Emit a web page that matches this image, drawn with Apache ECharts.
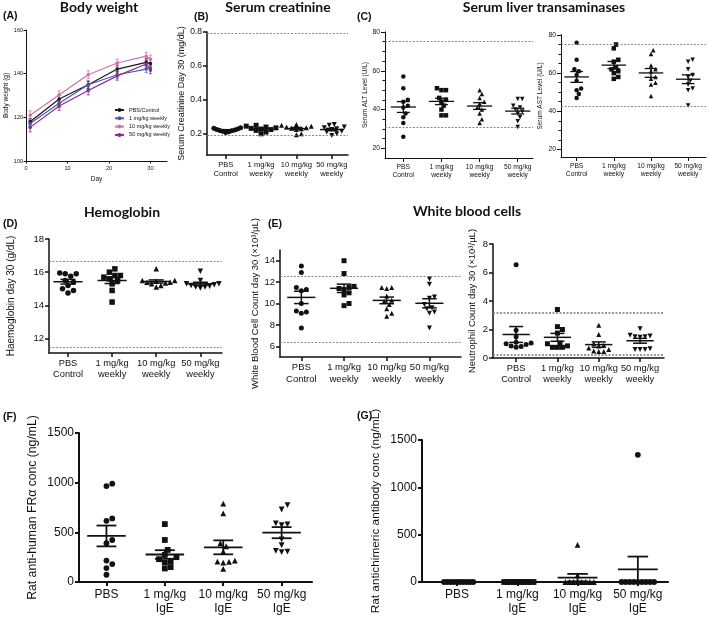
<!DOCTYPE html>
<html>
<head>
<meta charset="utf-8">
<script src="https://cdn.jsdelivr.net/npm/echarts@6/dist/echarts.min.js"></script>
<style>
html, body { margin: 0; background: #fff; }
#chart { width: 709px; height: 620px; }
</style>
</head>
<body>
<div id="chart"></div>
<script>
// ---- data ----
var weeklyLabels = ['PBS\nControl', '1 mg/kg\nweekly', '10 mg/kg\nweekly', '50 mg/kg\nweekly'];
var igeLabels = ['PBS', '1 mg/kg\nIgE', '10 mg/kg\nIgE', '50 mg/kg\nIgE'];

// (A) body weight, mean +/- sem
var bwDays = [1, 8, 15, 22, 29, 30];
var bwNames = ['PBS/Control', '1 mg/kg weekly', '10 mg/kg weekly', '50 mg/kg weekly'];
var bwPBS = [118, 128.4, 134.9, 142.1, 145.2, 144.6];
var bw1 = [117.2, 126.4, 134.9, 139.5, 142.1, 142.6];
var bw10 = [121, 130.3, 139.5, 144.9, 148, 146.7];
var bw50 = [115.4, 125.2, 132.3, 139, 144.4, 141.8];
var bwPBSsem = [1.5, 1.8, 1.6, 1.8, 1.7, 1.7];
var bw1sem = [1.6, 1.8, 1.8, 1.6, 1.5, 1.5];
var bw10sem = [2, 1.8, 1.8, 1.8, 1.8, 1.8];
var bw50sem = [2.1, 2, 2, 2, 1.8, 1.8];
var bwTicksX = [0, 10, 20, 30];
var bwTicksY = [100, 120, 140, 160];

// (B) serum creatinine
var creatPBS = [0.235, 0.232, 0.228, 0.225, 0.222, 0.22, 0.218, 0.215, 0.212, 0.208];
var creat1 = [0.25, 0.245, 0.24, 0.235, 0.232, 0.228, 0.225, 0.22, 0.21, 0.2];
var creat10 = [0.255, 0.25, 0.245, 0.24, 0.235, 0.232, 0.23, 0.225, 0.2, 0.195];
var creat50 = [0.255, 0.25, 0.24, 0.235, 0.23, 0.225, 0.215, 0.21, 0.2, 0.19];
var creatRef = [0.79, 0.19];
var creatTicks = [0.2, 0.4, 0.6, 0.8];

// (C) ALT / AST
var altPBS = [57, 51, 45, 44, 42, 41, 38, 36, 33, 26];
var alt1 = [51, 50, 50, 46, 45, 44, 42, 40, 37, 37];
var alt10 = [50, 48, 46, 44, 43, 41, 40, 38, 35, 33];
var alt50 = [45.5, 45.5, 42, 41, 40, 39, 38, 36, 34, 31];
var altRef = [75.2, 30.7];
var astPBS = [76, 67, 62, 61, 59, 56, 52, 51, 49, 47];
var ast1 = [75, 73, 67, 66, 63, 62, 61, 60, 58, 57];
var ast10 = [72, 70, 64, 62, 61, 58, 57, 55, 54, 48];
var ast50 = [67, 66, 62, 59, 58, 56, 54, 52, 51, 43];
var astRef = [75.3, 42.6];
var transTicks = [20, 40, 60, 80];
var transMinorTicks = [20, 25, 30, 35, 40, 45, 50, 55, 60, 65, 70, 75, 80];

// (D) haemoglobin
var hgbPBS = [15.95, 15.9, 15.9, 15.75, 15.5, 15.4, 15.2, 15.0, 14.9, 14.75];
var hgb1 = [16.2, 16.0, 15.8, 15.8, 15.7, 15.6, 15.5, 15.3, 14.9, 14.2];
var hgb10 = [16.2, 15.5, 15.5, 15.45, 15.4, 15.4, 15.35, 15.3, 15.2, 15.1];
var hgb50 = [16.05, 15.5, 15.3, 15.3, 15.25, 15.2, 15.15, 15.1, 15.1, 15.05];
var hgbRef = [16.64, 11.49];
var hgbTicks = [12, 14, 16, 18];

// (E) white blood cells / neutrophils
var wbcPBS = [13.5, 12.9, 11.5, 11.3, 11.2, 10.0, 9.3, 9.2, 9.1, 7.7];
var wbc1 = [14.0, 12.8, 11.6, 11.5, 11.4, 11.3, 11.0, 10.8, 10.0, 9.8];
var wbc10 = [11.5, 11.4, 11.5, 10.7, 10.3, 10.2, 9.9, 9.5, 9.1, 8.8];
var wbc50 = [12.3, 11.8, 10.6, 10.5, 9.9, 9.6, 9.5, 9.2, 9.1, 7.7];
var wbcRef = [12.56, 6.37];
var wbcTicks = [6, 8, 10, 12, 14];
var neuPBS = [6.55, 1.95, 1.5, 1.1, 1.05, 1.0, 0.95, 0.85, 0.8, 0.75];
var neu1 = [3.4, 2.2, 2.0, 1.75, 1.05, 1.0, 0.85, 0.75, 0.75, 0.75];
var neu10 = [2.3, 1.65, 1.0, 0.9, 0.85, 0.7, 0.6, 0.5, 0.45, 0.45];
var neu50 = [2.05, 1.6, 1.55, 1.5, 1.5, 1.45, 0.65, 0.6, 0.6, 0.6];
var neuRef = [3.15, 0.2];
var neuTicks = [0, 2, 4, 6, 8];

// (F) anti-human FRa, (G) antichimeric antibody
var fraPBS = [990, 966, 640, 616, 423, 390, 216, 180, 140, 73];
var fra1 = [583, 423, 323, 273, 250, 230, 206, 196, 150, 136];
var fra10 = [790, 690, 390, 360, 305, 216, 206, 203, 196, 133];
var fra50 = [773, 730, 590, 580, 573, 430, 370, 313, 306, 300];
var acaPBS = [0, 0, 0, 0, 0, 0, 0, 0, 0, 0];
var aca1 = [0, 0, 0, 0, 0, 0, 0, 0, 0, 0];
var aca10 = [393, 70, 0, 0, 0, 0, 0, 0, 0, 0];
var aca50 = [1343, 0, 0, 0, 0, 0, 0, 0, 0, 0];
var concTicks = [0, 500, 1000, 1500];

// ---- helpers ----
var FONT = 'Liberation Sans';
var INK = '#111';
var catTicks = [0, 1, 2, 3];

function mean(a) { return a.reduce(function (s, v) { return s + v; }, 0) / a.length; }
function sem(a) {
    var m = mean(a);
    var ss = a.reduce(function (s, v) { return s + (v - m) * (v - m); }, 0);
    return Math.sqrt(ss / (a.length - 1)) / Math.sqrt(a.length);
}

// simple beeswarm: horizontal pixel offsets so dots do not overlap
function swarm(vals, pxY, d, maxHalf) {
    var order = vals.map(function (v, i) { return i; })
        .sort(function (a, b) { return vals[a] - vals[b]; });
    var placed = [], offs = [];
    order.forEach(function (i) {
        var y = vals[i] * pxY, x = 0;
        for (var k = 0; k < 80; k++) {
            x = (k % 2 ? 1 : -1) * Math.ceil(k / 2) * d * 0.5;
            var ok = placed.every(function (q) {
                var dx = q[0] - x, dy = q[1] - y;
                return dx * dx + dy * dy >= d * d * 0.9;
            });
            if (ok) break;
        }
        placed.push([x, y]);
        offs[i] = x;
    });
    var m = Math.max.apply(null, offs.map(Math.abs));
    if (m > maxHalf) offs = offs.map(function (o) { return o * maxHalf / m; });
    return offs;
}

function meanSemItem(lw) {
    return function (params, api) {
        var g = api.value(0), m = api.value(1), s = api.value(2);
        function seg(xa, ya, xb, yb) {
            var a = api.coord([xa, ya]), b = api.coord([xb, yb]);
            return { type: 'line', shape: { x1: a[0], y1: a[1], x2: b[0], y2: b[1] },
                style: { stroke: INK, lineWidth: lw } };
        }
        return { type: 'group', children: [
            seg(g - 0.33, m, g + 0.33, m),
            seg(g - 0.17, m + s, g + 0.17, m + s),
            seg(g - 0.17, m - s, g + 0.17, m - s),
            seg(g, m - s, g, m + s)
        ] };
    };
}

function errBarItem(color) {
    return function (params, api) {
        var x = api.value(0), y = api.value(1), e = api.value(2);
        var t = api.coord([x, y + e]), b = api.coord([x, y - e]);
        var st = { stroke: color, lineWidth: 0.8 };
        return { type: 'group', children: [
            { type: 'line', shape: { x1: t[0], y1: t[1], x2: b[0], y2: b[1] }, style: st },
            { type: 'line', shape: { x1: t[0] - 1.6, y1: t[1], x2: t[0] + 1.6, y2: t[1] }, style: st },
            { type: 'line', shape: { x1: b[0] - 1.6, y1: b[1], x2: b[0] + 1.6, y2: b[1] }, style: st }
        ] };
    };
}

function plain(v) { return String(v); }
function oneDec(v) { return v.toFixed(1); }

var option = {
    animation: false,
    textStyle: { fontFamily: FONT, color: INK },
    grid: [], xAxis: [], yAxis: [], series: [], graphic: []
};

// ---- (A) body weight ----
option.grid.push({ left: 26, top: 30, width: 141, height: 131 });
option.xAxis.push({
    gridIndex: 0, type: 'value', min: 0, max: 34,
    name: 'Day', nameLocation: 'middle', nameGap: 15,
    nameTextStyle: { fontSize: 6.5, color: INK },
    axisLine: { lineStyle: { color: INK, width: 1 } },
    axisTick: { customValues: bwTicksX, length: 2.5, lineStyle: { color: INK } },
    axisLabel: { customValues: bwTicksX, fontSize: 5.5, color: INK, margin: 4, formatter: plain },
    splitLine: { show: false }
});
option.yAxis.push({
    gridIndex: 0, type: 'value', min: 100, max: 160,
    name: 'Body weight (g)', nameLocation: 'middle', nameGap: 15,
    nameTextStyle: { fontSize: 6.5, color: INK },
    axisLine: { show: true, lineStyle: { color: INK, width: 1 } },
    axisTick: { show: true, customValues: bwTicksY, length: 2.5, lineStyle: { color: INK } },
    axisLabel: { customValues: bwTicksY, fontSize: 5.5, color: INK, margin: 3, formatter: plain },
    splitLine: { show: false }
});
var bwSets = [bwPBS, bw1, bw10, bw50];
var bwSems = [bwPBSsem, bw1sem, bw10sem, bw50sem];
var bwColors = ['#1a1a1a', '#4a57ad', '#d070b4', '#8b2a8e'];
bwSets.forEach(function (vals, k) {
    option.series.push({
        name: bwNames[k], type: 'line', xAxisIndex: 0, yAxisIndex: 0,
        symbol: 'circle', symbolSize: 3.5,
        lineStyle: { color: bwColors[k], width: 1.2 },
        itemStyle: { color: bwColors[k] },
        data: bwDays.map(function (d, i) { return [d, vals[i]]; })
    });
    option.series.push({
        type: 'custom', xAxisIndex: 0, yAxisIndex: 0,
        renderItem: errBarItem(bwColors[k]),
        data: bwDays.map(function (d, i) { return [d, vals[i], bwSems[k][i]]; })
    });
});
option.legend = {
    data: bwNames, orient: 'vertical', left: 114, top: 107,
    itemWidth: 9, itemHeight: 5, itemGap: 2.3, padding: 0,
    textStyle: { fontSize: 5.5, color: INK, fontFamily: FONT }
};

// ---- dot plot panels ----
function addDotPanel(p) {
    var gi = option.grid.length;
    option.grid.push({ left: p.left, top: p.top, width: p.width, height: p.height });
    var xi = option.xAxis.length, yi = option.yAxis.length;
    option.xAxis.push({
        gridIndex: gi, type: 'value', min: p.xr[0], max: p.xr[1],
        axisLine: { onZero: false, lineStyle: { color: INK, width: p.lw } },
        axisTick: { customValues: catTicks, length: 4, lineStyle: { color: INK, width: p.lw } },
        axisLabel: {
            customValues: catTicks, fontSize: p.xfs, lineHeight: p.xfs * 1.2,
            color: INK, margin: 5,
            formatter: function (v) { return p.cats[Math.round(v)]; }
        },
        splitLine: { show: false }
    });
    option.yAxis.push({
        gridIndex: gi, type: 'value', min: p.yr[0], max: p.yr[1], position: 'left',
        name: p.name, nameLocation: 'middle', nameGap: p.nameGap,
        nameTextStyle: { fontSize: p.nfs, color: INK },
        axisLine: { show: true, onZero: false, lineStyle: { color: INK, width: p.lw } },
        axisTick: { show: true, customValues: p.ticks, length: 4, lineStyle: { color: INK, width: p.lw } },
        axisLabel: { customValues: p.ticks, fontSize: p.yfs, color: INK, margin: 5, formatter: p.fmt || plain },
        splitLine: { show: false }
    });
    if (p.minor) {
        // second left axis that only carries the short minor ticks
        option.yAxis.push({
            gridIndex: gi, type: 'value', min: p.yr[0], max: p.yr[1],
            position: 'left', offset: 0,
            axisLine: { show: true, onZero: false, lineStyle: { color: INK, width: p.lw } },
            axisTick: { show: true, customValues: p.minor, length: 2.5, lineStyle: { color: INK, width: 1 } },
            axisLabel: { show: false }, splitLine: { show: false }
        });
    }
    var pxX = p.width / (p.xr[1] - p.xr[0]);
    var pxY = p.height / (p.yr[1] - p.yr[0]);
    var stats = [];
    p.sets.forEach(function (vals, g) {
        var offs = swarm(vals, pxY, p.size, p.spread * pxX);
        var s = {
            type: 'scatter', xAxisIndex: xi, yAxisIndex: yi,
            symbol: p.symbols[g], symbolRotate: p.rot[g], symbolSize: p.size,
            itemStyle: { color: INK, opacity: 1 },
            data: vals.map(function (v, i) { return [g + offs[i] / pxX, v]; })
        };
        if (g === 0 && p.refs) {
            s.markLine = {
                silent: true, symbol: 'none', label: { show: false },
                lineStyle: { color: '#7a7a7a', type: [2, 1.5], width: p.refW || 0.9 },
                data: p.refs.map(function (r) { return { yAxis: r }; })
            };
        }
        option.series.push(s);
        stats.push([g, mean(vals), sem(vals)]);
    });
    option.series.push({
        type: 'custom', xAxisIndex: xi, yAxisIndex: yi, z: 5,
        renderItem: meanSemItem(p.meanLw), data: stats
    });
}

var shapes = ['circle', 'rect', 'triangle', 'triangle'];
var rots = [0, 0, 0, 180];

// (B)
addDotPanel({
    left: 207, top: 32, width: 141, height: 123, xr: [-0.53, 3.46], yr: [0.075, 0.8],
    ticks: creatTicks, fmt: oneDec, cats: weeklyLabels,
    name: 'Serum Creatinine Day 30 (mg/dL)', nameGap: 21, nfs: 9, xfs: 7.6, yfs: 8.5,
    sets: [creatPBS, creat1, creat10, creat50], symbols: shapes, rot: rots,
    size: 5, spread: 0.42, lw: 1.5, meanLw: 1.5, refs: creatRef
});
// (C) ALT
addDotPanel({
    left: 385, top: 32, width: 148, height: 126, xr: [-0.48, 3.4], yr: [15, 80],
    ticks: transTicks, minor: transMinorTicks, cats: weeklyLabels,
    name: 'Serum ALT Level (U/L)', nameGap: 13, nfs: 6.5, xfs: 6.7, yfs: 6.8,
    sets: [altPBS, alt1, alt10, alt50], symbols: shapes, rot: rots,
    size: 4.5, spread: 0.4, lw: 1, meanLw: 1.3, refs: altRef
});
// (C) AST
addDotPanel({
    left: 561, top: 35, width: 145, height: 122, xr: [-0.42, 3.48], yr: [16, 80],
    ticks: transTicks, minor: transMinorTicks, cats: weeklyLabels,
    name: 'Serum AST Level (U/L)', nameGap: 17, nfs: 6.5, xfs: 6.7, yfs: 6.8,
    sets: [astPBS, ast1, ast10, ast50], symbols: shapes, rot: rots,
    size: 4.5, spread: 0.4, lw: 1, meanLw: 1.3, refs: astRef
});
// (D)
addDotPanel({
    left: 49, top: 239, width: 173, height: 114, xr: [-0.43, 3.49], yr: [11.13, 18],
    ticks: hgbTicks, cats: weeklyLabels,
    name: 'Haemoglobin day 30 (g/dL)', nameGap: 33, nfs: 10, xfs: 9.3, yfs: 9.5,
    sets: [hgbPBS, hgb1, hgb10, hgb50], symbols: shapes, rot: rots,
    size: 5.5, spread: 0.42, lw: 1.5, meanLw: 1.5, refs: hgbRef
});
// (E) WBC
addDotPanel({
    left: 280, top: 250, width: 181, height: 107, xr: [-0.5, 3.74], yr: [5, 15],
    ticks: wbcTicks, cats: weeklyLabels,
    name: 'White Blood Cell Count day 30 (×10³/µL)', nameGap: 20, nfs: 9.5, xfs: 9.5, yfs: 9.5,
    sets: [wbcPBS, wbc1, wbc10, wbc50], symbols: shapes, rot: rots,
    size: 5, spread: 0.42, lw: 1.5, meanLw: 1.5, refs: wbcRef
});
// (E) neutrophils
addDotPanel({
    left: 493, top: 244, width: 171, height: 114, xr: [-0.56, 3.58], yr: [0, 8],
    ticks: neuTicks, cats: weeklyLabels,
    name: 'Neutrophil Count day 30 (×10³/µL)', nameGap: 16, nfs: 9.5, xfs: 9.3, yfs: 9.5,
    sets: [neuPBS, neu1, neu10, neu50], symbols: shapes, rot: rots,
    size: 5, spread: 0.42, lw: 1.5, meanLw: 1.5, refs: neuRef, refW: 1.6
});
// (F)
addDotPanel({
    left: 79, top: 433, width: 233, height: 149, xr: [-0.47, 3.52], yr: [0, 1500],
    ticks: concTicks, cats: igeLabels,
    name: 'Rat anti-human FRα conc (ng/mL)', nameGap: 40, nfs: 12.2, xfs: 12, yfs: 12,
    sets: [fraPBS, fra1, fra10, fra50], symbols: shapes, rot: rots,
    size: 5.8, spread: 0.4, lw: 2, meanLw: 1.8
});
// (G)
addDotPanel({
    left: 422, top: 440, width: 246, height: 142, xr: [-0.58, 3.5], yr: [0, 1500],
    ticks: concTicks, cats: igeLabels,
    name: 'Rat antichimeric antibody conc (ng/mL)', nameGap: 40, nfs: 11.8, xfs: 12, yfs: 12,
    sets: [acaPBS, aca1, aca10, aca50], symbols: ['circle', 'rect', 'triangle', 'circle'], rot: [0, 0, 0, 0],
    size: 5.8, spread: 0.27, lw: 2, meanLw: 1.8
});

// ---- titles and panel letters ----
function title(text, x, y) {
    option.graphic.push({ type: 'text', x: x, y: y, style: {
        text: text, fill: INK, font: 'bold 14px Lato', textAlign: 'center', textVerticalAlign: 'middle' } });
}
function letter(text, x, y) {
    option.graphic.push({ type: 'text', x: x, y: y, style: {
        text: text, fill: INK, font: 'bold 10.5px "Liberation Sans"', textAlign: 'left', textVerticalAlign: 'middle' } });
}
title('Body weight', 99, 7);
title('Serum creatinine', 278, 7);
title('Serum liver transaminases', 544, 7);
title('Hemoglobin', 122, 212);
title('White blood cells', 467, 211);
letter('(A)', 3, 16);
letter('(B)', 194, 17.5);
letter('(C)', 357, 17);
letter('(D)', 3, 224.5);
letter('(E)', 268, 224);
letter('(F)', 3, 417);
letter('(G)', 357, 416);

var chart = echarts.init(document.getElementById('chart'));
chart.setOption(option);
</script>
</body>
</html>
